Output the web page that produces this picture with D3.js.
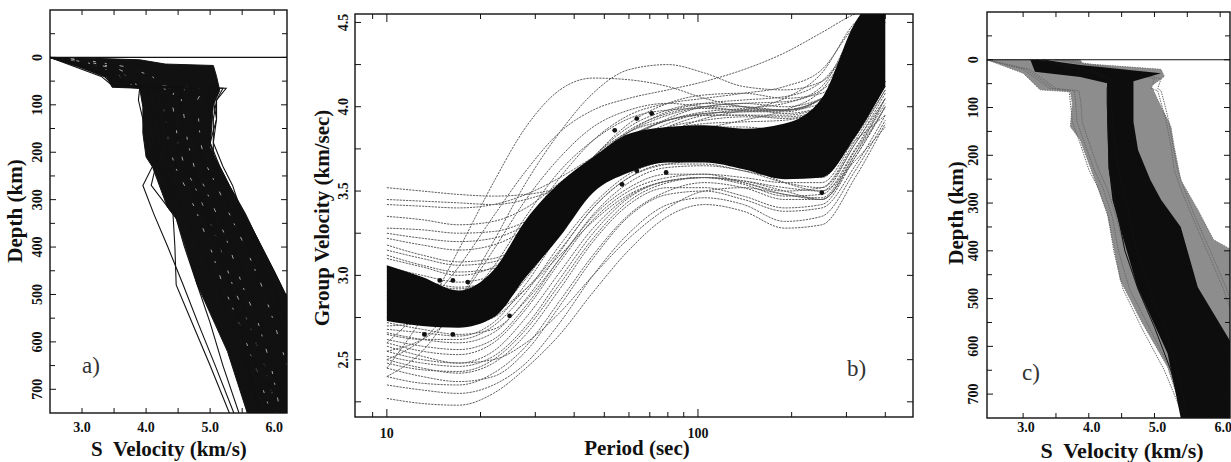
<!DOCTYPE html>
<html>
<head>
<meta charset="utf-8">
<script src="https://cdn.jsdelivr.net/npm/d3@7/dist/d3.min.js"></script>
<style>
  body { margin: 0; background: #fff; }
  text { font-family: "Liberation Serif", "Times New Roman", serif; fill: #111; }
</style>
</head>
<body>
<svg id="fig" width="1231" height="462"></svg>
<script>
// ---------- panel a : S velocity profiles ----------
const depthA = [0, 20, 40, 60, 65, 90, 130, 180, 230, 270, 330, 400, 480, 560, 650, 750];
// dense core of the profiles, [velocity, depth]
const coreA = [[2.5,0],[3.2,2],[3.9,5],[4.3,14],[5.05,17],[5.1,40],[5.15,70],[5.05,100],[5.0,190],
  [5.3,270],[5.6,345],[6.0,450],[6.2,505],[6.2,750],[5.58,750],[5.27,620],[4.8,480],[4.48,342],
  [4.33,315],[4.1,231],[4.0,210],[3.95,160],[3.95,105],[3.9,65],[3.47,63],[3.39,42],[3.02,21]];
const profilesA = [
  [2.50,3.00,3.35,3.50,4.00,4.05,4.10,4.15,4.10,3.95,4.12,4.34,4.58,4.81,5.08,5.37],
  [2.50,3.05,3.40,3.50,4.10,4.15,4.20,4.25,4.15,4.08,4.42,4.45,4.47,4.72,5.00,5.30],
  [2.50,3.10,3.45,3.55,4.20,4.25,4.30,4.35,4.30,4.35,4.45,4.60,4.80,5.00,5.20,5.45],
  [2.50,3.00,3.40,3.60,5.20,5.10,5.05,5.05,5.20,5.35,5.50,5.75,6.00,6.20,6.30,6.30],
  [2.50,3.20,3.60,3.70,5.25,5.10,5.10,5.00,5.15,5.30,5.55,5.80,6.10,6.30,6.30,6.30],
  [2.50,3.10,3.50,3.65,5.00,4.95,5.00,5.00,5.10,5.25,5.45,5.70,5.95,6.20,6.30,6.30],
  [2.50,2.90,3.30,3.48,3.90,3.88,3.95,4.00,4.20,4.40,4.60,4.85,5.10,5.35,5.55,5.80],
  [2.50,3.15,3.50,3.60,4.60,4.50,4.55,4.60,4.70,4.85,5.00,5.20,5.40,5.60,5.85,6.05],
  [2.50,3.30,3.70,3.80,4.80,4.70,4.75,4.80,4.90,5.00,5.15,5.35,5.60,5.80,6.00,6.20],
  [2.50,3.00,3.40,3.55,4.40,4.30,4.35,4.45,4.55,4.70,4.90,5.10,5.30,5.50,5.70,5.90],
  [2.50,3.20,3.55,3.65,5.10,5.05,5.10,5.05,5.05,5.15,5.35,5.60,5.85,6.10,6.30,6.30],
  [2.50,2.95,3.35,3.50,4.50,4.60,4.40,4.50,4.65,4.80,4.95,5.15,5.30,5.45,5.60,5.75]
];
// light gaps between the overlapping profiles inside the core
const gapsA = [
  [2.60,3.30,3.60,3.70,4.30,4.25,4.30,4.35,4.45,4.60,4.80,5.00,5.20,5.45,5.70,5.95],
  [2.70,3.50,3.80,3.85,4.60,4.55,4.60,4.65,4.75,4.90,5.10,5.30,5.50,5.75,5.95,6.10],
  [2.80,3.70,4.10,4.20,4.90,4.80,4.82,4.85,4.95,5.10,5.30,5.55,5.80,6.00,6.20,6.30],
  [2.65,3.40,3.70,3.78,4.45,4.40,4.45,4.50,4.60,4.75,4.95,5.15,5.35,5.60,5.85,6.05]
];

// ---------- panel b : group velocity dispersion ----------
const periodB = [10, 13, 17, 22, 28, 36, 46, 60, 80, 105, 140, 190, 250, 320, 400];
const bandTopB = [3.06, 2.99, 2.91, 3.03, 3.33, 3.55, 3.70, 3.84, 3.88, 3.89, 3.87, 3.90, 4.05, 4.50, 4.70];
const bandBotB = [2.73, 2.70, 2.69, 2.75, 2.99, 3.23, 3.49, 3.61, 3.67, 3.67, 3.63, 3.57, 3.58, 3.82, 4.12];
const curvesB = [
  [3.52,3.50,3.48,3.47,3.48,3.52,3.60,3.70,3.80,3.87,3.92,3.98,4.10,4.40,4.60],
  [3.45,3.44,3.43,3.42,3.45,3.52,3.62,3.74,3.85,3.93,3.98,4.05,4.20,4.50,4.60],
  [3.42,3.41,3.40,3.42,3.48,3.58,3.70,3.82,3.92,3.97,3.99,4.02,4.12,4.45,4.60],
  [3.35,3.33,3.30,3.32,3.40,3.55,3.70,3.85,3.95,4.00,4.02,4.00,4.05,4.35,4.60],
  [3.28,3.27,3.25,3.26,3.32,3.45,3.60,3.75,3.88,3.95,3.98,3.98,4.05,4.35,4.60],
  [3.25,3.22,3.20,3.22,3.30,3.45,3.62,3.80,3.93,4.00,4.02,4.03,4.10,4.30,4.55],
  [3.22,3.18,3.15,3.18,3.28,3.48,3.66,3.85,3.97,4.02,4.04,4.06,4.15,4.40,4.60],
  [3.18,3.12,3.08,3.10,3.20,3.40,3.60,3.78,3.90,3.96,3.97,3.97,4.05,4.30,4.55],
  [3.15,3.10,3.06,3.08,3.22,3.46,3.68,3.86,3.96,4.00,4.00,3.98,4.02,4.32,4.58],
  [3.12,3.06,3.02,3.04,3.15,3.38,3.58,3.76,3.86,3.90,3.91,3.92,4.00,4.30,4.55],
  [3.10,3.05,3.00,3.05,3.22,3.48,3.70,3.90,4.02,4.07,4.08,4.05,4.08,4.35,4.60],
  [3.05,3.00,2.96,3.00,3.18,3.45,3.66,3.82,3.92,3.96,3.97,3.98,4.05,4.35,4.60],
  [3.02,2.97,2.93,2.97,3.12,3.38,3.60,3.78,3.86,3.88,3.88,3.86,3.92,4.25,4.55],
  [2.98,2.92,2.89,2.94,3.12,3.40,3.64,3.82,3.92,3.95,3.95,3.93,3.98,4.30,4.58],
  [2.45,2.75,3.15,3.55,3.88,4.10,4.17,4.16,4.12,4.05,4.00,3.98,4.05,4.35,4.60],
  [2.40,2.55,2.85,3.20,3.55,3.85,4.08,4.22,4.25,4.20,4.12,4.10,4.15,4.40,4.60],
  [2.60,2.80,3.05,3.35,3.62,3.85,3.98,4.05,4.10,4.15,4.22,4.32,4.44,4.55,4.60],
  [2.55,2.62,2.78,3.02,3.30,3.58,3.80,3.95,4.02,4.05,4.08,4.12,4.22,4.48,4.60],
  [2.50,2.62,2.85,3.15,3.45,3.70,3.88,3.98,4.02,4.00,3.98,3.98,4.05,4.35,4.60],
  [2.70,2.72,2.82,3.05,3.35,3.62,3.80,3.93,3.98,3.99,3.98,3.98,4.05,4.32,4.55],
  [2.62,2.58,2.56,2.62,2.82,3.10,3.35,3.52,3.60,3.60,3.55,3.50,3.52,3.80,4.10],
  [2.60,2.55,2.53,2.60,2.80,3.08,3.33,3.50,3.58,3.60,3.58,3.55,3.55,3.82,4.10],
  [2.55,2.50,2.48,2.55,2.75,3.02,3.28,3.47,3.56,3.58,3.54,3.47,3.48,3.75,4.05],
  [2.52,2.48,2.46,2.52,2.70,2.98,3.25,3.46,3.56,3.58,3.56,3.52,3.50,3.78,4.05],
  [2.50,2.45,2.42,2.48,2.65,2.92,3.20,3.42,3.52,3.52,3.47,3.40,3.42,3.70,4.00],
  [2.48,2.44,2.43,2.50,2.68,2.95,3.22,3.44,3.55,3.58,3.55,3.48,3.46,3.74,4.02],
  [2.45,2.40,2.37,2.40,2.55,2.82,3.10,3.35,3.48,3.50,3.45,3.38,3.40,3.65,3.95],
  [2.40,2.36,2.35,2.42,2.58,2.85,3.12,3.36,3.50,3.55,3.52,3.45,3.45,3.72,4.00],
  [2.35,2.32,2.30,2.35,2.48,2.72,3.00,3.25,3.42,3.46,3.42,3.32,3.35,3.62,3.92],
  [2.27,2.24,2.23,2.30,2.45,2.65,2.90,3.15,3.35,3.42,3.38,3.28,3.30,3.58,3.90],
  [2.65,2.62,2.62,2.70,2.90,3.18,3.42,3.60,3.68,3.70,3.66,3.60,3.60,3.85,4.12],
  [2.66,2.62,2.60,2.66,2.86,3.14,3.40,3.58,3.66,3.68,3.65,3.60,3.58,3.84,4.12],
  [2.68,2.66,2.64,2.72,2.95,3.25,3.50,3.66,3.74,3.76,3.72,3.66,3.65,3.90,4.15],
  [2.58,2.52,2.48,2.50,2.60,2.78,3.00,3.22,3.40,3.50,3.52,3.48,3.45,3.70,4.00],
  [2.80,2.76,2.74,2.78,2.92,3.12,3.32,3.48,3.56,3.58,3.56,3.50,3.45,3.72,4.05],
  [2.78,2.74,2.72,2.78,2.98,3.26,3.50,3.66,3.72,3.72,3.68,3.62,3.62,3.88,4.15],
  [2.95,2.90,2.88,2.95,3.20,3.48,3.70,3.88,3.98,4.02,4.00,3.96,4.00,4.30,4.55],
  [2.90,2.85,2.84,2.92,3.15,3.45,3.70,3.85,3.92,3.95,3.95,3.95,4.00,4.25,4.50],
  [2.85,2.80,2.78,2.85,3.08,3.38,3.62,3.80,3.88,3.92,3.94,3.94,3.98,4.28,4.55],
  [2.75,2.72,2.70,2.75,2.92,3.15,3.40,3.58,3.66,3.66,3.62,3.58,3.60,3.88,4.15],
  [2.72,2.68,2.65,2.68,2.85,3.10,3.36,3.55,3.64,3.65,3.62,3.55,3.52,3.78,4.08],
  [3.00,2.95,2.92,2.98,3.20,3.45,3.62,3.72,3.76,3.76,3.72,3.66,3.62,3.80,3.95],
  [2.88,2.84,2.82,2.88,3.08,3.35,3.55,3.68,3.72,3.70,3.65,3.55,3.50,3.68,3.88]
];
// observed points [period, velocity]
const dotsB = [[13.2,2.65],[16.3,2.65],[14.8,2.97],[16.3,2.97],[18.2,2.96],[24.8,2.76],[54,3.86],
  [57,3.54],[63.6,3.93],[71,3.96],[63.6,3.62],[79,3.61],[250,3.49]];

// ---------- panel c : accepted models ----------
const depthC = [0, 20, 40, 60, 65, 90, 130, 180, 230, 270, 330, 400, 480, 560, 650, 750];
const grayC = [[2.45,0],[3.87,0],[3.9,8],[5.1,20],[5.15,35],[4.95,55],[5.1,98],[5.25,140],[5.3,182],
  [5.4,252],[5.66,314],[5.9,377],[6.2,400],[6.2,750],[5.45,750],[5.4,727],[5.2,643],[4.79,545],
  [4.48,461],[4.3,335],[4.28,321],[4.02,224],[3.87,168],[3.72,140],[3.75,91],[3.72,67],[3.26,63],[3.0,28]];
const blackC = [[3.11,0],[3.41,2],[3.87,11],[5.1,28],[4.68,45],[4.68,130],[4.75,189],[4.94,252],[5.1,293],
  [5.4,350],[5.66,476],[6.2,600],[6.2,750],[5.4,750],[5.2,615],[4.74,476],[4.53,377],[4.36,293],
  [4.3,224],[4.28,126],[4.28,49],[3.87,36],[3.18,25]];
const profilesC = [
  [2.45,3.00,3.20,3.40,3.70,3.72,3.75,3.88,4.00,4.15,4.30,4.38,4.52,4.80,5.15,5.45],
  [2.45,3.05,3.25,3.45,3.78,3.80,3.82,3.95,4.08,4.22,4.36,4.45,4.62,4.92,5.25,5.52],
  [2.45,3.10,3.30,3.50,3.85,3.88,3.90,4.02,4.15,4.28,4.42,4.55,4.75,5.05,5.35,5.60],
  [3.60,4.50,5.10,5.05,5.10,5.15,5.22,5.28,5.35,5.45,5.62,5.85,6.10,6.30,6.30,6.30],
  [3.50,4.40,5.00,4.95,5.05,5.10,5.18,5.25,5.30,5.40,5.58,5.80,6.05,6.25,6.30,6.30]
];
const blackLinesC = [
  [3.20,3.90,4.30,4.28,4.28,4.28,4.29,4.30,4.31,4.36,4.45,4.55,4.75,5.00,5.25,5.45],
  [3.30,4.00,4.35,4.33,4.33,4.34,4.36,4.40,4.45,4.52,4.62,4.72,4.92,5.15,5.35,5.50]
];

const svg = d3.select("#fig");
const defs = svg.append("defs");

function clip(id, x, y) {
  defs.append("clipPath").attr("id", id).append("rect")
    .attr("x", x.range()[0]).attr("y", y.range()[0])
    .attr("width", x.range()[1] - x.range()[0]).attr("height", y.range()[1] - y.range()[0]);
}

function frame(g, x, y) {
  g.append("rect")
    .attr("x", x.range()[0]).attr("y", y.range()[0])
    .attr("width", x.range()[1] - x.range()[0]).attr("height", y.range()[1] - y.range()[0])
    .attr("fill", "none").attr("stroke", "#111").attr("stroke-width", 1.4);
}

// inside ticks on all four sides
function ticks(g, x, y, xv, yv, yLong) {
  const [x0, x1] = x.range(), [y0, y1] = y.range();
  xv.forEach(v => {
    g.append("line").attr("x1", x(v)).attr("x2", x(v)).attr("y1", y1).attr("y2", y1 - 5).attr("stroke", "#111");
    g.append("line").attr("x1", x(v)).attr("x2", x(v)).attr("y1", y0).attr("y2", y0 + 5).attr("stroke", "#111");
  });
  yv.forEach(v => {
    const L = yLong.includes(v) ? 6 : 5;
    g.append("line").attr("y1", y(v)).attr("y2", y(v)).attr("x1", x0).attr("x2", x0 + L).attr("stroke", "#111");
    g.append("line").attr("y1", y(v)).attr("y2", y(v)).attr("x1", x1).attr("x2", x1 - L).attr("stroke", "#111");
  });
}

function rotLabel(g, x, y, txt, size) {
  g.append("text").attr("transform", `translate(${x},${y}) rotate(-90)`)
    .attr("text-anchor", "middle").style("font-size", size + "px").style("font-weight", "bold").text(txt);
}

// ================= panel a =================
{
  const x = d3.scaleLinear().domain([2.5, 6.2]).range([50, 287]);
  const y = d3.scaleLinear().domain([-100, 750]).range([10, 413]);
  const g = svg.append("g");
  clip("clipA", x, y);
  const pg = g.append("g").attr("clip-path", "url(#clipA)");
  const line = d3.line().x(d => x(d[0])).y(d => y(d[1]));

  pg.append("path").datum(coreA)
    .attr("d", d3.line().x(d => x(d[0])).y(d => y(d[1])).curve(d3.curveLinearClosed))
    .attr("fill", "#111").attr("stroke", "#111").attr("stroke-width", 1);
  gapsA.forEach((p, k) => {
    pg.append("path").datum(p.map((v, i) => [v, depthA[i]]))
      .attr("d", line).attr("fill", "none").attr("stroke", "#fff").attr("stroke-opacity", 0.7)
      .attr("stroke-width", 0.9).attr("stroke-dasharray", "2,13,4,19,3,9")
      .attr("stroke-dashoffset", k * 7);
  });
  profilesA.forEach(p => {
    pg.append("path").datum(p.map((v, i) => [v, depthA[i]]))
      .attr("d", line).attr("fill", "none").attr("stroke", "#111").attr("stroke-width", 1.1);
  });
  pg.append("line").attr("x1", x(2.5)).attr("x2", x(6.2)).attr("y1", y(0)).attr("y2", y(0))
    .attr("stroke", "#111").attr("stroke-width", 1.2);

  frame(g, x, y);
  ticks(g, x, y, d3.range(3, 6.01, 0.5), d3.range(-50, 701, 50), d3.range(0, 701, 100));

  [3, 4, 5, 6].forEach(v => g.append("text").attr("x", x(v)).attr("y", 432).attr("text-anchor", "middle")
    .style("font-size", "14px").style("font-weight", "bold").text(d3.format(".1f")(v)));
  d3.range(0, 701, 100).forEach(v => rotLabel(g, 42, y(v), v, 14));
  rotLabel(g, 22, 211, "Depth (km)", 21);
  g.append("text").attr("x", 169).attr("y", 456).attr("text-anchor", "middle")
    .style("font-size", "21px").style("font-weight", "bold").attr("xml:space", "preserve").text("S  Velocity (km/s)");
  g.append("text").attr("x", 82).attr("y", 373).style("font-size", "23px").style("fill", "#333").text("a)");
}

// ================= panel b =================
{
  const x = d3.scaleLog().domain([7.9, 491]).range([355, 913]);
  const y = d3.scaleLinear().domain([2.16, 4.55]).range([417, 14]);
  const g = svg.append("g");
  clip("clipB", x, d3.scaleLinear().range([14, 417]));
  const pg = g.append("g").attr("clip-path", "url(#clipB)");

  const line = d3.line().x(d => x(d[0])).y(d => y(d[1])).curve(d3.curveMonotoneX);
  curvesB.forEach(c => {
    pg.append("path").datum(c.map((v, i) => [periodB[i], v]))
      .attr("d", line).attr("fill", "none").attr("stroke", "#5e5e5e")
      .attr("stroke-width", 1).attr("stroke-dasharray", "2.2,1");
  });
  pg.append("path").datum(periodB.map((t, i) => [t, bandBotB[i], bandTopB[i]]))
    .attr("d", d3.area().x(d => x(d[0])).y0(d => y(d[1])).y1(d => y(d[2])).curve(d3.curveMonotoneX))
    .attr("fill", "#0c0c0c");
  pg.selectAll("circle").data(dotsB).join("circle")
    .attr("cx", d => x(d[0])).attr("cy", d => y(d[1])).attr("r", 2.4).attr("fill", "#111");

  g.append("rect").attr("x", 355).attr("y", 14).attr("width", 558).attr("height", 403)
    .attr("fill", "none").attr("stroke", "#111").attr("stroke-width", 1.4);
  const xt = [9, 10, 20, 30, 40, 50, 60, 70, 80, 90, 100, 200, 300, 400];
  const yt = d3.range(2.25, 4.51, 0.25);
  xt.forEach(v => {
    const L = (v === 10 || v === 100) ? 8 : 5;
    g.append("line").attr("x1", x(v)).attr("x2", x(v)).attr("y1", 417).attr("y2", 417 - L).attr("stroke", "#111");
    g.append("line").attr("x1", x(v)).attr("x2", x(v)).attr("y1", 14).attr("y2", 14 + L).attr("stroke", "#111");
  });
  yt.forEach(v => {
    g.append("line").attr("y1", y(v)).attr("y2", y(v)).attr("x1", 355).attr("x2", 361).attr("stroke", "#111");
    g.append("line").attr("y1", y(v)).attr("y2", y(v)).attr("x1", 913).attr("x2", 907).attr("stroke", "#111");
  });
  [10, 100].forEach(v => g.append("text").attr("x", x(v)).attr("y", 438).attr("text-anchor", "middle")
    .style("font-size", "14px").style("font-weight", "bold").text(v));
  [2.5, 3.0, 3.5, 4.0, 4.5].forEach(v => rotLabel(g, 348, y(v), d3.format(".1f")(v), 14));
  rotLabel(g, 329, 218, "Group Velocity (km/sec)", 21);
  g.append("text").attr("x", 637).attr("y", 455).attr("text-anchor", "middle")
    .style("font-size", "21px").style("font-weight", "bold").text("Period (sec)");
  g.append("text").attr("x", 847).attr("y", 376).style("font-size", "23px").style("fill", "#333").text("b)");
}

// ================= panel c =================
{
  const x = d3.scaleLinear().domain([2.45, 6.15]).range([987, 1230]);
  const y = d3.scaleLinear().domain([-100, 750]).range([12, 418]);
  const g = svg.append("g");
  clip("clipC", x, y);
  const pg = g.append("g").attr("clip-path", "url(#clipC)");
  const poly = d3.line().x(d => x(d[0])).y(d => y(d[1])).curve(d3.curveLinearClosed);
  const line = d3.line().x(d => x(d[0])).y(d => y(d[1]));

  pg.append("path").datum(grayC).attr("d", poly).attr("fill", "#8d8d8d")
    .attr("stroke", "#777").attr("stroke-width", 1).attr("stroke-dasharray", "1.5,1");
  profilesC.forEach(p => {
    pg.append("path").datum(p.map((v, i) => [v, depthC[i]]))
      .attr("d", line).attr("fill", "none").attr("stroke", "#6a6a6a")
      .attr("stroke-width", 1).attr("stroke-dasharray", "1.5,1");
  });
  pg.append("path").datum(blackC).attr("d", poly).attr("fill", "#0d0d0d");
  blackLinesC.forEach(p => {
    pg.append("path").datum(p.map((v, i) => [v, depthC[i]]))
      .attr("d", line).attr("fill", "none").attr("stroke", "#111").attr("stroke-width", 1);
  });
  pg.append("line").attr("x1", x(2.45)).attr("x2", x(6.15)).attr("y1", y(0)).attr("y2", y(0))
    .attr("stroke", "#111").attr("stroke-width", 1.2);

  frame(g, x, y);
  ticks(g, x, y, d3.range(3, 6.01, 0.5), d3.range(-50, 701, 50), d3.range(0, 701, 100));

  [3, 4, 5, 6].forEach(v => g.append("text").attr("x", x(v) + 3).attr("y", 432).attr("text-anchor", "middle")
    .style("font-size", "14px").style("font-weight", "bold").text(d3.format(".1f")(v)));
  d3.range(0, 701, 100).forEach(v => rotLabel(g, 978, y(v), v, 14));
  rotLabel(g, 963, 213, "Depth (km)", 21);
  g.append("text").attr("x", 1122).attr("y", 458).attr("text-anchor", "middle")
    .style("font-size", "22px").style("font-weight", "bold").attr("xml:space", "preserve").text("S  Velocity (km/s)");
  g.append("text").attr("x", 1022).attr("y", 380).style("font-size", "23px").style("fill", "#333").text("c)");
}
</script>
</body>
</html>
